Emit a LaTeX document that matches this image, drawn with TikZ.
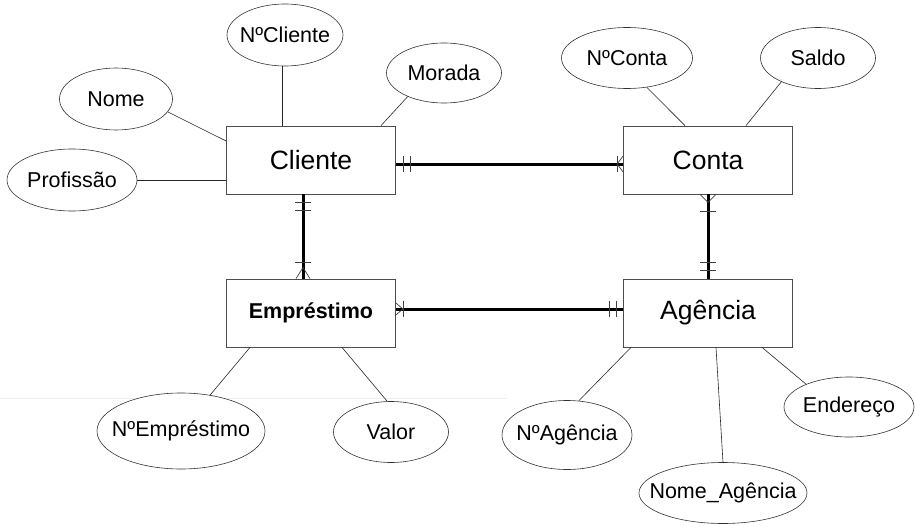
\documentclass[tikz,border=0pt]{standalone}
\usepackage{fontspec}
\setmainfont{Liberation Sans}
\usetikzlibrary{shapes.geometric}

\tikzset{
  entity/.style={draw=black!70, line width=0.8pt, fill=white, minimum width=169pt, minimum height=68pt, inner sep=0pt, font=\fontsize{26.5}{30}\selectfont},
  attr/.style={ellipse, draw=black!80, line width=0.6pt, fill=white, inner sep=0pt},
  every label/.style={font=\fontsize{21.5}{24}\selectfont},
  link/.style={black!85, line width=0.6pt},
  rel/.style={line width=3pt},
  crowline/.style={black!75, line width=0.7pt}
}

\begin{document}
\begin{tikzpicture}[x=1pt,y=-1pt]
\useasboundingbox (0,0) rectangle (916,527);
\draw[black!6, line width=1pt] (0,398) -- (507,398);

\node[entity] (cliente) at (311,160) {Cliente};
\node[entity] (conta) at (708,160) {Conta};
\node[entity, font=\fontsize{21.5}{24}\selectfont\bfseries] (emprestimo) at (311,313) {Empréstimo};
\node[entity] (agencia) at (708,313) {Agência};

\node[attr, minimum width=116pt, minimum height=62pt, label=center:NºCliente] (ncliente) at (285,35) {};
\node[attr, minimum width=113pt, minimum height=62pt, label=center:Nome] (nome) at (116,99) {};
\node[attr, minimum width=130pt, minimum height=62pt, label=center:Profissão] (profissao) at (72,180) {};
\node[attr, minimum width=115pt, minimum height=60pt, label=center:Morada] (morada) at (444,73) {};
\node[attr, minimum width=131pt, minimum height=61pt, label=center:NºConta] (nconta) at (627,58) {};
\node[attr, minimum width=115pt, minimum height=61pt, label=center:Saldo] (saldo) at (818,58) {};
\node[attr, minimum width=168pt, minimum height=76pt, label=center:NºEmpréstimo] (nemprestimo) at (181,431) {};
\node[attr, minimum width=115pt, minimum height=61pt, label=center:Valor] (valor) at (391,432) {};
\node[attr, minimum width=130pt, minimum height=69pt, label=center:NºAgência] (nagencia) at (567,435) {};
\node[attr, minimum width=168pt, minimum height=61pt, label=center:Nome\_Agência] (nomeagencia) at (723,493) {};
\node[attr, minimum width=130pt, minimum height=60pt, label=center:Endereço] (endereco) at (849,407) {};

% attributes
\draw[link] (ncliente.-95) -- (ncliente.-95 |- cliente.north);
\draw[link] (nome.-14) -- ([yshift=19pt]cliente.west);
\draw[link] (profissao.east) -- (profissao.east -| cliente.west);
\draw[link] (morada.-147) -- ([xshift=70pt]cliente.north);
\draw[link] (nconta.-56) -- ([xshift=-23pt]conta.north);
\draw[link] (saldo.-147) -- ([xshift=38pt]conta.north);
\draw[link] (nemprestimo.51) -- ([xshift=-61pt]emprestimo.south);
\draw[link] (valor.97) -- ([xshift=31pt]emprestimo.south);
\draw[link] (nagencia.71) -- ([xshift=-77pt]agencia.south);
\draw[link] (nomeagencia.north) -- ([xshift=8pt]agencia.south);
\draw[link] (endereco.152) -- ([xshift=54pt]agencia.south);

% Cliente - Conta
\draw[rel] ([yshift=-4pt]cliente.east) -- ([yshift=-4pt]conta.west);
\draw[crowline] ([xshift=7pt,yshift=-4pt]cliente.east) ++(0,-8) -- ++(0,16);
\draw[crowline] ([xshift=14pt,yshift=-4pt]cliente.east) ++(0,-8) -- ++(0,16);
\draw[crowline] ([xshift=-6pt,yshift=-4pt]conta.west) ++(0,-8) -- ++(0,16);
\draw[crowline] ([yshift=4pt]conta.west) -- ([xshift=-6pt,yshift=-4pt]conta.west) -- ([yshift=-12pt]conta.west);

% Cliente - Emprestimo
\draw[rel] ([xshift=-8pt]cliente.south) -- ([xshift=-8pt]emprestimo.north);
\draw[crowline] ([xshift=-8pt,yshift=-8pt]cliente.south) ++(-8,0) -- ++(16,0);
\draw[crowline] ([xshift=-8pt,yshift=-16pt]cliente.south) ++(-8,0) -- ++(16,0);
\draw[crowline] ([xshift=-8pt,yshift=16pt]emprestimo.north) ++(-8,0) -- ++(16,0);
\draw[crowline] ([xshift=-15pt]emprestimo.north) -- ([xshift=-8pt,yshift=11pt]emprestimo.north) -- ([xshift=-1pt]emprestimo.north);

% Conta - Agencia
\draw[rel] (conta.south) -- (agencia.north);
\draw[crowline] ([xshift=-8pt]conta.south) -- ([yshift=-8pt]conta.south) -- ([xshift=8pt]conta.south);
\draw[crowline] ([yshift=-17pt]conta.south) ++(-8,0) -- ++(16,0);
\draw[crowline] ([yshift=16pt]agencia.north) ++(-8,0) -- ++(16,0);
\draw[crowline] ([yshift=8pt]agencia.north) ++(-8,0) -- ++(16,0);

% Emprestimo - Agencia
\draw[rel] ([yshift=4pt]emprestimo.east) -- ([yshift=4pt]agencia.west);
\draw[crowline] ([yshift=10pt]emprestimo.east) -- ([xshift=7pt,yshift=4pt]emprestimo.east) -- ([yshift=-2pt]emprestimo.east);
\draw[crowline] ([xshift=7pt,yshift=4pt]emprestimo.east) ++(0,-8) -- ++(0,16);
\draw[crowline] ([xshift=-14pt,yshift=4pt]agencia.west) ++(0,-8) -- ++(0,16);
\draw[crowline] ([xshift=-7pt,yshift=4pt]agencia.west) ++(0,-8) -- ++(0,16);
\end{tikzpicture}
\end{document}
